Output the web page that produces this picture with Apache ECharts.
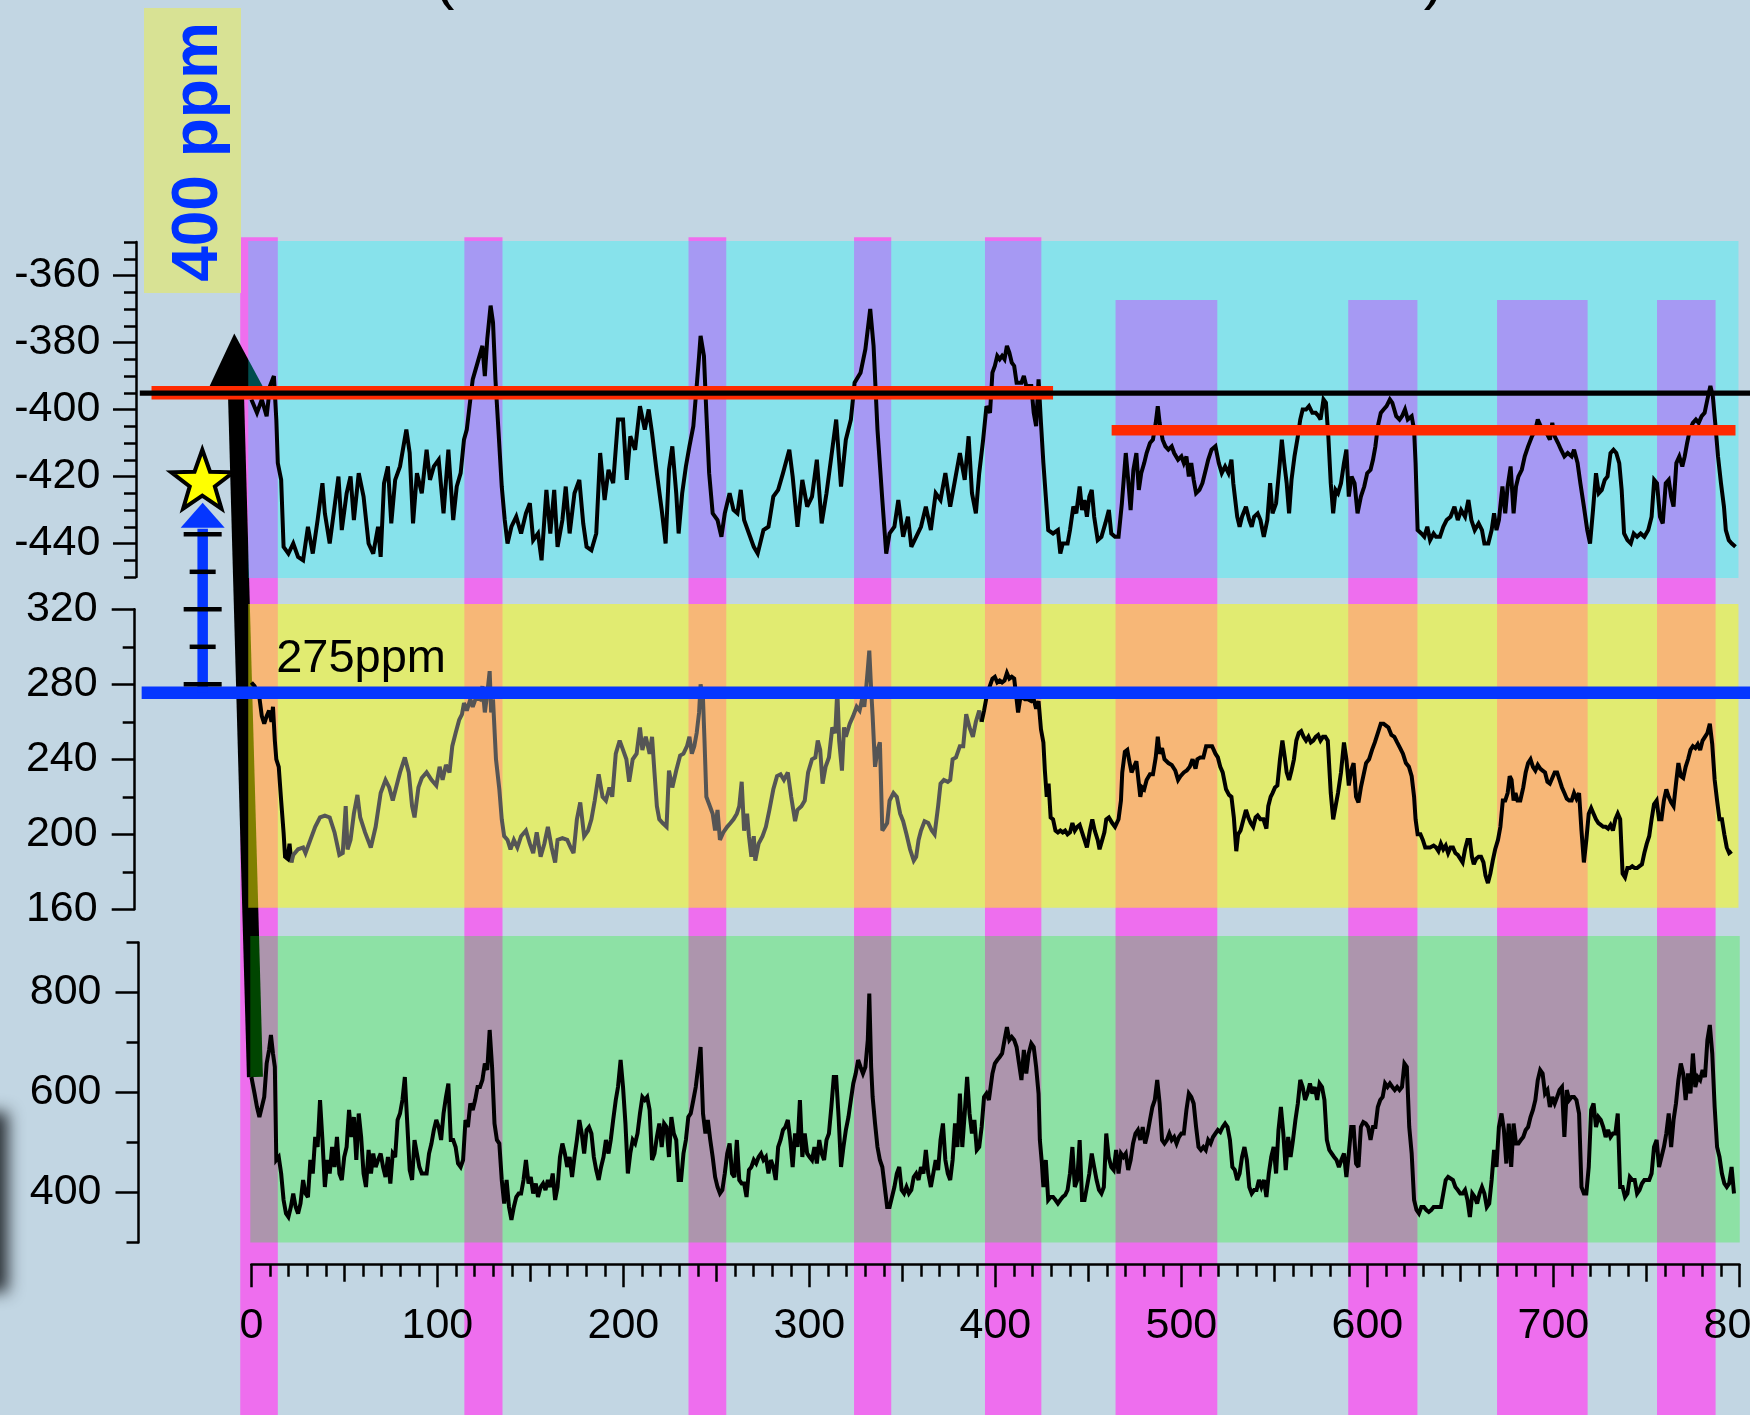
<!DOCTYPE html>
<html>
<head>
<meta charset="utf-8">
<script src="https://cdn.jsdelivr.net/npm/echarts@6.0.0/dist/echarts.min.js"></script>
<style>
html,body{margin:0;padding:0;background:#C2D6E3;overflow:hidden}
#chart{width:1750px;height:1415px}
</style>
</head>
<body>
<div id="chart"></div>
<script>
// ---------------- data (ages in kyr before present) ----------------
const ageTickLabels = [0, 100, 200, 300, 400, 500, 600, 700, 800];
const dDTickLabels = [-440, -420, -400, -380, -360];
const dDMinorTicks = [-450, -445, -435, -430, -425, -415, -410, -405, -395, -390, -385, -375, -370, -365, -355, -350];
const co2TickLabels = [160, 200, 240, 280, 320];
const co2MinorTicks = [180, 220, 260, 300];
const ch4TickLabels = [400, 600, 800];
const ch4MinorTicks = [300, 500, 700, 900];

// interglacial bands
const interglacialStart = [-6, 114.5, 235, 324, 394.4, 464.6, 589.7, 669.7, 755.7];
const interglacialEnd   = [14.2, 135, 255.3, 344, 424.7, 519.3, 626.9, 718.4, 787.2];
const interglacialTopDD = [-348.6, -348.6, -348.6, -348.6, -348.6, -367.3, -367.3, -367.3, -367.3];

// deuterium record (top panel)
const deltaD = [[0,-397],[3,-401],[5.6,-397],[8.2,-402],[10,-393],[12.1,-390],[13.4,-403],[14.2,-416],[16,-421],[17.3,-441],[19.9,-443],[22.5,-440],[25.1,-444],[27.8,-445],[30.4,-435],[33,-443],[35.6,-433],[38.2,-422],[39.5,-431],[42.1,-440],[44.7,-429],[46.8,-420],[48.6,-436],[51.2,-425],[53.3,-420],[55.1,-433],[57.7,-419],[60.3,-426],[63,-440],[65.5,-443],[68.1,-435],[69.5,-444],[71.3,-422],[73.4,-417],[75.2,-434],[77.3,-421],[79.9,-417],[83.3,-406],[85.1,-413],[86.9,-434],[89,-419],[91.6,-425],[94.2,-412],[96,-421],[98.1,-417],[100.7,-415],[103.3,-431],[105.9,-412],[108.5,-433],[110.4,-423],[112.5,-419],[114.3,-409],[115.8,-406],[117.7,-397],[119,-391],[121.6,-386],[124.2,-381],[125.5,-390],[126.8,-379],[128.6,-369],[129.9,-374],[131.2,-391],[132.8,-406],[134.6,-423],[136.2,-433],[137.7,-440],[139.8,-435],[142.4,-432],[145,-437],[147.6,-431],[149.7,-428],[151.5,-439],[154.1,-437],[156,-445],[158.6,-424],[160.7,-437],[162.8,-424],[164.6,-441],[167.2,-433],[169,-423],[171.1,-437],[173.7,-425],[176.3,-421],[178.4,-434],[180.2,-441],[182.8,-442],[185.4,-437],[187.5,-413],[189.9,-427],[192,-418],[194.5,-422],[197.1,-403],[199.8,-403],[201.8,-421],[203.7,-408],[206.3,-412],[208.9,-399],[211.5,-406],[213.6,-400],[215.4,-407],[218,-419],[220.6,-430],[222.7,-440],[224.5,-418],[226.3,-411],[228.4,-425],[229.7,-437],[231.6,-425],[233.6,-417],[235.5,-411],[237.6,-405],[239.4,-393],[240.7,-384],[241.5,-378],[243.3,-384],[244.6,-401],[246.1,-419],[248,-431],[250.6,-433],[252.7,-438],[254.5,-431],[257.1,-425],[259.2,-430],[261.3,-431],[263.1,-424],[264.9,-433],[267.5,-437],[270.1,-441],[272.2,-443],[275.3,-436],[278,-435],[280.6,-426],[283.2,-424],[285.8,-419],[289.2,-412],[291,-420],[293.6,-435],[296.2,-421],[298.8,-429],[301.4,-426],[304,-415],[306.6,-434],[309.2,-425],[311.8,-414],[314.4,-403],[317,-423],[319.6,-409],[322.3,-403],[324.3,-392],[327.5,-389],[330.1,-382],[332.7,-370],[334.5,-381],[336.6,-406],[339.2,-427],[341.3,-443],[343.1,-437],[345.7,-435],[347.8,-427],[350.4,-438],[353,-432],[354.8,-441],[357.4,-438],[360,-435],[362.6,-429],[365.3,-436],[367.9,-425],[370.5,-427],[373.1,-419],[375.7,-429],[378.3,-421],[380.9,-413],[383.5,-421],[385.6,-408],[387.4,-425],[389.5,-431],[391.3,-419],[393.4,-409],[395.2,-399],[397.1,-401],
[398.4,-389],[399.7,-387],[401,-384],[402.3,-385],[403.6,-384],[404.9,-385],[406.2,-381],[407.5,-383],[408.8,-386],[410.1,-387],[411.4,-392],[414,-392],[415.3,-390],[416.6,-393],[419.3,-393],[420.6,-401],[421.9,-405],[423.2,-391],[424.5,-404],[425.8,-416],[427.1,-426],[428.4,-436],[431,-437],[433.6,-436],[434.9,-443],[436.2,-440],[438.8,-440],[440.1,-436],[441.9,-429],[443.5,-431],[445.3,-423],[446.6,-430],[447.9,-427],[449.2,-432],[450.5,-426],[451.8,-424],[453.1,-432],[455,-439],[457,-438],[459.1,-434],[461,-430],[462.3,-437],[464.3,-438],[466.2,-438],[468,-428],[470.1,-413],[471.4,-421],[472.7,-430],[474.2,-418],[475.8,-413],[477.1,-424],[478.4,-419],[480,-416],[481.3,-413],[483.1,-410],[484.7,-409],[486.2,-404],[487.3,-399],[488.3,-404],[489.9,-409],[491.4,-411],[493,-412],[494.8,-411],[496.1,-413],[498.2,-415],[500,-414],[501.3,-416],[502.7,-414],[504,-420],[505.3,-416],[506.6,-421],[507.9,-425],[509.7,-424],[511.3,-422],[513.1,-418],[514.4,-415],[516.2,-412],[518.3,-411],[520.1,-416],[521.7,-419],[523.5,-417],[525.3,-419],[526.9,-415],[527.9,-422],[530,-432],[531.3,-435],[532.6,-432],[534.7,-429],[536.5,-433],[537.8,-435],[539.1,-432],[541,-431],[542.5,-433],[544.3,-438],[546.2,-433],[547.7,-422],[549,-431],[550.9,-428],[552.9,-416],[554,-409],[555.3,-416],[556.6,-422],[557.9,-431],[559.2,-421],[560.8,-414],[562.6,-408],[563.9,-403],[565.2,-400],[567,-400],[568.6,-399],[570.4,-401],[572.2,-401],[573.8,-402],[574.8,-403],[576.4,-397],[577.7,-398],[579,-408],[580.3,-422],[581.6,-431],[582.9,-424],[584.2,-425],[585.8,-422],[587.4,-416],[588.7,-412],[590,-426],[591.5,-420],[593.1,-422],[594.7,-431],[596.5,-426],[598.3,-423],[599.9,-419],[601.7,-418],[603,-415],[604.3,-411],[605.6,-405],[607.2,-401],[608.7,-400],[610.3,-399],[612.1,-397],[613.4,-398],[615.5,-402],[617.3,-403],[618.6,-402],[620.2,-400],[621.7,-403],[623.8,-402],[625.1,-406],[625.9,-416],[627,-436],[629,-437],[630.6,-438],[632.2,-435],[633.7,-439],[635.6,-437],[636.9,-438],[639,-438],[640.8,-435],[642.6,-433],[644.7,-432],[646.8,-429],[648.6,-433],[650.4,-430],[652.5,-432],[654.3,-427],[655.9,-433],[657.7,-436],[659.8,-434],[661.6,-436],[662.9,-440],[665,-440],[666.8,-436],[668.1,-431],[669.4,-436],[670.7,-433],[672.6,-423],[674.1,-431],[675.4,-423],[677,-417],[678.6,-431],[679.9,-423],[681.2,-420],[683,-418],[684.6,-414],[686.4,-411],[688.5,-408],[690.3,-406],[691.6,-403],[693.2,-405],[694.2,-406],[696.3,-407],[698.1,-409],[699.4,-404],[700.7,-408],[702.5,-410],[704.1,-412],[705.9,-414],[707.7,-413],[709.8,-414],[711.1,-412],[713,-416],[714.5,-422],[716.4,-429],[718.2,-436],[719.7,-440],[721.3,-430],[722.9,-419],[724.4,-425],[726,-424],[727.6,-421],[729.1,-420],[730.7,-413],[732.3,-412],[733.8,-413],[735.4,-416],[736.7,-424],[738,-437],[739.8,-439],[741.6,-440],[743.2,-437],[745,-438],[746.9,-437],[748.9,-438],[751,-436],[752.8,-432],[754.2,-421],[755.7,-422],[757.3,-432],[758.8,-434],[760.4,-422],[762,-421],[763.3,-426],[764.6,-429],[766.1,-416],[767.7,-414],[769.3,-417],[770.6,-414],[771.9,-410],[773.4,-406],[775,-404],[776.6,-403],[778.1,-404],[779.7,-402],[781.3,-401],[782.8,-397],[784.4,-393],[785.7,-396],[787,-404],[788.5,-414],[790.1,-422],[791.7,-429],[792.7,-436],[794.3,-439],[795.9,-440],[797.9,-441]];

// CO2 (middle panel): recent part, Vostok (grey), Dome C (black)
const co2Recent = [[0,281],[1.7,279],[4.3,273],[5.6,263],[6.9,259],[8.2,263],[9.5,266],[10.8,260],[11.6,268],[12.6,250],[13.4,240],[14.7,236],[16,218],[17.3,201],[18.1,188],[19.4,187],[20.5,195],[21.5,185]];
const co2Vostok = [[21.5,185],[22.5,189],[25.1,192],[27.8,193],[29.1,190],[31.7,197],[34.3,204],[36.9,209],[39.5,210],[42.1,209],[44.7,201],[47.3,189],[49.1,190],[50.7,215],[51.7,192],[53.3,197],[55.1,211],[57,221],[58.5,209],[61.1,201],[64.2,193],[66.8,204],[69.5,222],[72.1,229],[74.1,225],[76,218],[77.8,225],[79.9,233],[82.5,241],[84.6,233],[86.4,215],[87.7,209],[89.8,225],[91.6,230],[94.2,233],[96.8,229],[99.4,226],[101.2,236],[102.8,229],[104.6,237],[106.5,233],[108,247],[109.8,254],[111.7,261],[113.2,264],[114.3,270],[115.8,266],[117.7,272],[119,268],[120.8,273],[122.9,272],[124.2,279],[125.5,265],[126.8,275],[128.1,287],[128.9,265],[129.9,272],[131.5,240],[133.3,224],[134.6,208],[135.9,199],[137.7,197],[139.3,192],[141.1,197],[143,193],[145,199],[147.6,202],[149.7,195],[151.5,190],[153.4,201],[155.5,188],[157.5,195],[159.4,204],[161.4,193],[163.3,185],[164.6,197],[167.2,198],[169.8,197],[171.6,193],[173.2,190],[175,208],[176.8,217],[178.9,199],[181,202],[182.8,208],[184.6,218],[186.7,232],[188.8,220],[190.6,218],[192.5,225],[194,220],[195.9,243],[198,250],[199.8,245],[201.6,240],[203.1,228],[205,240],[207.1,243],[208.9,257],[210.2,245],[212,252],[214.1,243],[215.4,252],[216.7,233],[218,215],[219.3,208],[221.1,206],[223.2,204],[224.5,234],[226.3,225],[228.4,234],[230.5,242],[232.3,243],[234.2,247],[235.5,252],[236.8,243],[238.1,247],[239.4,254],[240.7,265],[241.5,280],[242.8,272],[243.6,250],[244.6,220],[246.1,216],[248,211],[249.3,202],[250.6,213],[251.9,197],[253.7,201],[255.8,204],[257.6,206],[259.2,208],[261,211],[262.3,215],[263.6,228],[264.9,202],[266.5,211],[267.5,199],[268.8,188],[270.1,199],[270.9,186],[272.7,195],[274.8,199],[276.6,204],[278.5,213],[280.6,224],[282.6,231],[284.5,232],[286.3,229],[288.4,233],[290.2,220],[292.3,207],[293.6,213],[295.7,215],[297.5,218],[299.3,233],[301.4,240],[303.2,241],[304.5,250],[305.8,245],[307.1,227],[308.7,236],[310.5,241],[312.3,257],[313.9,254],[315,277],[316,250],[317.5,234],[318.6,257],[319.6,252],[321.7,259],[323.5,263],[325.4,268],[327,266],[328.3,272],[329.5,268],[330.6,279],[331.4,288],[332.2,298],[333.2,277],[334,263],[335.3,236],[336.6,245],[337.9,249],[339.2,202],[340.5,204],[341.8,206],[343.1,218],[345.2,222],[347,220],[348.8,211],[350.4,207],[352.2,200],[354.1,192],[356.1,186],[357.4,188],[358.7,197],[360,202],[361.9,207],[363.9,206],[365.8,202],[367.3,200],[369.2,215],[370.5,227],[372.3,229],[374.4,228],[375.7,229],[377,240],[378.8,241],[380.9,247],[382.7,247],[384.3,264],[386.1,257],[387.9,252],[389.5,260],[391.3,266],[392.6,260]];
const co2DomeC = [[392.6,260],[393.9,266],[395.2,273],[397,279],[398.4,283],[399.7,284],[401,281],[402.3,282],[403.6,281],[404.9,282],[406.2,286],[407.5,283],[408.8,284],[410.1,283],[411.4,272],[412.2,265],[413.3,272],[414.6,273],[415.9,272],[417.4,272],[419.3,271],[420.6,272],[421.9,267],[423.2,271],[424.5,256],[425.8,249],[426.6,234],[427.6,220],[428.6,227],[429.7,209],[431,208],[432.3,202],[433.6,201],[434.9,202],[436.2,201],[437.5,202],[438.8,200],[440.1,201],[441.4,206],[442.7,202],[444,204],[445.3,205],[446.6,201],[447.9,197],[449.2,193],[450.8,202],[452.1,208],[453.4,202],[455,197],[456,192],[457,193],[458.6,201],[459.6,208],[461,209],[462.8,206],[464.3,204],[466.2,208],[467.5,218],[468.2,233],[469.6,244],[470.9,245],[472.2,238],[473.2,233],[474.5,236],[475.8,239],[476.9,229],[477.9,220],[478.9,225],[480,224],[481.3,229],[483.1,232],[484.7,232],[485.7,232],[486.2,241],[487.3,252],[488.3,243],[489.6,246],[490.9,240],[493,238],[494.8,237],[496.7,234],[498.2,229],[499.5,231],[501.3,233],[502.9,234],[504.5,236],[506,240],[507.6,235],[508.6,240],[510.2,241],[511.8,241],[513.3,247],[514.9,247],[516.5,247],[518.3,243],[519.6,241],[520.9,236],[522.2,233],[524,224],[525.6,221],[526.9,220],[528.2,209],[529.5,191],[530.5,200],[531.8,202],[533.1,207],[534.7,213],[536,209],[537.3,206],[538.6,204],[539.9,209],[541,210],[542.5,208],[544.1,208],[545.7,203],[546.7,215],[548,220],[549,222],[550.3,225],[551.6,226],[553,240],[554.3,250],[555.6,241],[556.6,233],[557.9,229],[559.2,234],[560.5,240],[561.8,250],[563.1,254],[564.4,255],[565.7,252],[567,250],[568.3,252],[569.6,249],[570.9,250],[572.2,252],[573.5,253],[574.8,250],[576.1,252],[577.4,252],[578.7,250],[580.3,222],[581.6,208],[582.9,215],[584.2,222],[585.8,233],[587.4,249],[588.7,240],[590,226],[591.3,234],[592.6,238],[593.9,220],[595.2,217],[596.5,225],[597.8,231],[599.3,238],[600.9,240],[602.5,245],[604,249],[605.6,254],[607.2,259],[608.7,259],[610,258],[611.3,257],[612.9,253],[614.5,252],[616,249],[617.6,246],[619.1,243],[620.7,238],[622.3,236],[623.8,231],[625.1,220],[625.9,208],[627,200],[628.5,200],[629.8,197],[631.1,193],[632.4,193],[633.7,193],[635.6,194],[636.9,193],[638.2,191],[639.5,195],[640.8,192],[642.1,194],[643.4,190],[644.7,193],[646,193],[647.3,190],[648.6,189],[649.9,187],[651.2,185],[652.5,192],[653.8,197],[655.1,197],[656.2,188],[657.2,184],[658.5,187],[659.8,188],[661.1,188],[662.4,185],[663.5,178],[664.8,174],[666.1,179],[667.4,186],[668.7,192],[670.2,197],[671.5,204],[672.8,218],[674.1,218],[675.4,222],[676.5,231],[677.5,229],[678.6,218],[679.6,222],[680.7,218],[682.2,218],[683.8,225],[685.1,233],[686.4,238],[687.7,240],[689,236],[690.3,234],[691.6,237],[692.9,235],[694.2,234],[695.5,233],[696.8,228],[698.1,227],[699.4,230],[700.7,233],[702,233],[703.3,229],[704.6,225],[705.9,222],[707.2,219],[708.5,218],[709.8,218],[711.1,222],[712.4,219],[713.8,222],[715.1,202],[716.4,185],[717.7,197],[719,211],[720.3,214],[721.6,211],[722.9,208],[724.2,206],[725.5,205],[726.8,204],[728.1,204],[729.4,203],[730.7,205],[732,202],[733.3,208],[734.6,211],[735.9,208],[737.2,179],[738.5,177],[739.8,182],[741.1,182],[742.4,183],[743.7,182],[745,182],[746.3,183],[747.6,184],[748.9,190],[750.2,195],[751.5,199],[752.8,208],[754.1,216],[755.5,218],[756.8,208],[758.1,208],[759.4,218],[760.7,224],[762,220],[763.3,217],[764.6,215],[765.9,227],[767.2,238],[768.5,231],[769.8,230],[771.1,236],[772.4,240],[773.7,245],[775,247],[776.3,246],[777.6,248],[778.9,245],[780.2,250],[781.5,252],[782.8,254],[784.1,259],[785.4,248],[786.7,229],[788,218],[789.3,208],[790.6,208],[791.9,200],[793.2,193],[794.5,190],[795.8,191]];

// CH4 (bottom panel)
const ch4 = [[0,631],[1.7,598],[3,571],[4.3,551],[5.6,571],[6.9,591],[8.2,658],[9.5,685],[10.5,715],[11.6,678],[12.6,651],[13.4,465],[14.7,471],[16,438],[17.3,385],[18.6,358],[19.9,351],[21.2,371],[22.5,398],[23.8,371],[25.1,358],[26.4,378],[27.8,425],[29.1,398],[30.4,391],[31.7,465],[33,438],[34.3,511],[35.6,491],[36.9,585],[38.2,505],[39.5,411],[40.8,465],[42.1,438],[43.4,491],[44.7,451],[46,511],[47.3,438],[48.6,425],[49.9,471],[51.2,491],[52.5,565],[53.8,511],[55.1,551],[56.4,465],[57.7,558],[59,511],[60.3,438],[61.6,411],[63,485],[64.3,438],[65.5,478],[66.8,451],[68.1,465],[69.5,478],[70.8,451],[72.1,431],[73.4,471],[74.7,418],[76,478],[77.3,471],[78.6,545],[79.9,558],[81.2,585],[82.5,631],[83.8,538],[85.1,445],[86.4,425],[87.7,505],[89,478],[90.3,451],[91.6,438],[92.9,438],[94.2,438],[95.5,478],[96.8,498],[98.1,525],[99.4,545],[100.7,531],[102,505],[103.3,558],[104.6,591],[105.9,618],[107.2,505],[108.5,505],[109.8,491],[111.1,458],[112.5,451],[113.8,465],[115.1,545],[116.4,531],[117.7,578],[119,565],[120.3,585],[121.6,611],[122.9,611],[124.2,625],[125.5,658],[126.8,645],[128.1,725],[129.4,651],[130.7,538],[132,505],[133.3,498],[134.6,425],[135.9,378],[137.2,425],[138.5,371],[139.8,345],[141.1,371],[142.4,391],[143.7,398],[145,398],[146.3,425],[147.6,465],[149,418],[150.2,431],[151.5,398],[152.9,418],[154.1,391],[155.5,411],[156.8,418],[158.1,405],[159.4,425],[160.7,411],[162,438],[163.3,385],[164.6,411],[165.9,471],[167.2,498],[168.5,478],[169.8,451],[171.1,471],[172.4,431],[173.7,471],[175,505],[176.3,545],[177.6,518],[178.9,478],[180.2,525],[181.5,531],[182.8,518],[184.1,471],[185.4,445],[186.7,425],[188,451],[189.3,471],[190.6,505],[192,478],[193.2,505],[194.5,545],[195.9,585],[197.1,611],[198.5,665],[199.8,611],[201.1,538],[202.4,438],[203.7,478],[205,505],[206.3,498],[207.6,518],[208.9,558],[210.2,591],[211.5,585],[212.8,591],[214.1,565],[215.4,465],[216.7,478],[218,511],[219.3,538],[220.6,491],[221.9,538],[223.2,531],[224.5,471],[225.8,551],[227.1,518],[228.4,505],[229.7,425],[231,425],[232.3,478],[233.6,505],[234.9,551],[236.2,558],[237.6,585],[238.9,611],[240.2,651],[241.5,691],[242.8,558],[244.1,518],[245.4,545],[246.7,505],[248,471],[249.3,431],[250.6,411],[251.9,398],[253.2,405],[254.5,438],[255.8,478],[257.1,498],[258.4,438],[259.7,431],[261,505],[262.3,425],[263.6,418],[264.9,418],[266.2,391],[267.5,445],[268.8,451],[270.1,465],[271.4,458],[272.7,471],[274,478],[275.3,465],[276.6,471],[278,438],[279.3,465],[280.6,451],[281.9,425],[283.2,491],[284.5,505],[285.8,525],[287.1,531],[288.4,545],[289.7,505],[291,451],[292.3,518],[293.6,491],[294.9,585],[296.2,471],[297.5,518],[298.8,478],[300.1,471],[301.4,465],[302.7,491],[304,458],[305.3,505],[306.6,478],[307.9,465],[309.2,505],[310.5,518],[311.8,571],[313.1,631],[314.4,631],[315.7,551],[317,451],[318.3,491],[319.6,525],[321,551],[322.3,585],[323.6,618],[324.9,638],[326.2,665],[327.5,651],[328.8,638],[330.1,651],[331.4,705],[332.2,798],[333.2,651],[334,591],[335.3,538],[336.6,491],[337.9,465],[339.2,451],[340.5,411],[341.8,371],[343.1,371],[344.4,391],[345.7,411],[347,438],[348.3,451],[349.6,405],[350.9,398],[352.2,411],[353.5,398],[354.8,405],[356.1,431],[357.4,438],[358.7,425],[360,451],[361.3,438],[362.6,485],[363.9,438],[365.3,411],[366.6,438],[367.9,465],[369.2,445],[370.5,505],[371.8,538],[373.1,465],[374.4,438],[375.7,425],[377,465],[378.3,538],[379.6,491],[380.9,598],[382.2,491],[383.5,558],[384.8,631],[386.1,558],[387.4,518],[388.7,545],[390,485],[391.3,491],[392.6,531],[393.9,591],[395.2,598],[396.5,585],
[398.4,638],[399.7,658],[401,665],[402.3,671],[403.6,678],[404.9,705],[406.2,731],[407.5,705],[408.8,711],[410.1,705],[411.4,691],[412.7,658],[414,625],[415.3,685],[416.6,638],[417.9,678],[419.3,698],[420.6,691],[421.9,651],[423.2,598],[423.9,505],[425,458],[425.8,411],[427.1,465],[428.4,385],[429.7,391],[431,391],[432.3,385],[433.6,378],[434.9,385],[436.2,391],[437.5,395],[438.8,405],[440.1,438],[441.4,491],[442.7,411],[444,425],[445.3,505],[446.6,385],[447.9,385],[449.2,411],[450.5,438],[451.8,478],[453.1,451],[454.4,425],[455.7,405],[457,398],[458.3,411],[459.6,518],[460.9,471],[462.3,451],[463.6,445],[464.9,485],[466.2,438],[467.5,478],[468.8,471],[470.1,478],[471.4,445],[472.7,465],[474,498],[475.3,518],[476.6,525],[477.9,505],[479.2,531],[480.5,498],[481.8,518],[483.1,545],[484.4,571],[485.7,585],[487,625],[488.3,578],[489.6,505],[490.9,498],[492.2,505],[493.5,518],[494.8,505],[496.1,511],[497.4,498],[498.7,511],[500,518],[501.3,518],[502.7,565],[504,598],[505.3,591],[506.6,578],[507.9,531],[509.2,491],[510.5,485],[511.8,491],[513.1,485],[514.4,505],[515.7,498],[517,511],[518.3,518],[519.6,525],[520.9,521],[522.2,531],[523.5,538],[524.8,531],[526.1,505],[527.4,451],[528.7,445],[530,425],[531.3,438],[532.6,471],[533.9,491],[535.2,465],[536.5,411],[537.8,398],[539.1,405],[540.4,405],[541.7,425],[543,411],[544.4,425],[545.7,391],[547,438],[548.3,471],[549.6,491],[550.9,438],[552.2,525],[553.5,571],[554.8,518],[556.1,445],[557.4,511],[558.7,471],[560,505],[561.3,545],[562.6,578],[563.9,625],[565.2,611],[566.5,585],[567.8,598],[569.1,618],[570.4,598],[571.7,611],[573,585],[574.3,618],[575.6,611],[576.9,585],[578.2,505],[579.5,485],[580.8,478],[582.1,471],[583.4,465],[584.7,451],[586,465],[587.4,478],[588.7,431],[590,478],[591.3,531],[592.6,531],[593.9,458],[595.2,451],[596.5,531],[597.8,541],[599.1,538],[600.4,531],[601.7,505],[603,531],[604.3,531],[605.6,571],[606.9,585],[608.2,591],[609.5,618],[610.8,611],[612.1,618],[613.4,611],[614.7,605],[616,611],[617.3,605],[618.6,611],[619.9,658],[621.2,651],[622.5,531],[623.8,478],[625.1,385],[626.4,365],[627.7,358],[629,371],[630.4,371],[631.7,365],[633,361],[634.3,365],[635.6,371],[636.9,371],[638.2,371],[639.5,371],[640.8,398],[642.1,425],[643.4,431],[644.7,428],[646,425],[647.3,411],[648.6,405],[649.9,398],[651.2,398],[652.5,405],[653.8,385],[655.1,351],[656.4,398],[657.7,391],[659,378],[660.3,398],[661.6,411],[662.9,398],[664.2,371],[665.5,378],[666.8,425],[668.1,485],[669.4,451],[670.7,531],[672.1,558],[673.4,525],[674.7,458],[676,538],[677.3,451],[678.6,538],[679.9,498],[681.2,498],[682.5,505],[683.8,511],[685.1,525],[686.4,531],[687.7,551],[689,565],[690.3,585],[691.6,625],[692.9,645],[694.2,638],[695.5,598],[696.8,605],[698.1,571],[699.4,591],[700.7,578],[702,591],[703.3,605],[704.6,611],[705.9,511],[707.2,605],[708.5,585],[709.8,591],[711.1,591],[712.4,585],[713.8,558],[715.1,411],[716.4,398],[717.7,398],[719,451],[720.3,565],[721.6,578],[722.9,531],[724.2,551],[725.5,545],[726.8,531],[728.1,511],[729.4,525],[730.7,511],[732,518],[733.3,518],[734.6,558],[735.9,411],[737.2,411],[738.5,391],[739.8,398],[741.1,431],[742.4,425],[743.7,425],[745,398],[746.3,405],[747.6,418],[748.9,425],[750.2,425],[751.5,425],[752.8,438],[754.1,491],[755.5,505],[756.8,451],[758.1,471],[759.4,491],[760.7,518],[762,558],[763.3,491],[764.6,545],[765.9,578],[767.2,625],[768.5,658],[769.8,638],[771.1,585],[772.4,638],[773.7,598],[775,678],[776.3,611],[777.6,631],[778.9,625],[780.2,645],[781.5,631],[782.8,705],[784.1,735],[785.4,678],[786.7,571],[788,491],[789.3,471],[790.6,438],[791.9,418],[793.2,411],[794.5,418],[795.8,451],[797.1,398]];

// reference levels
const redFrom  = [-53.7, 462.5];
const redTo    = [431, 797.9];
const redLevel = [-395, -406.2];
const blackLevelDD = -395.1;
const preindustrialCO2 = 275.5;
const co2MarkerTicks = [280, 300, 320, 340, 360];
const co2ArrowAge = -26.2, co2ArrowBase = 363.5, co2ArrowTip = 376.8, co2StarValue = 387.7;
const modernArrowStart = [1.9, 631];   // bottom panel (age, CH4)
const modernArrowTip = [-9.2, -377.3]; // top panel (age, dD)

// ---------------- chart ----------------
const FONT = "'Liberation Sans', Arial, Helvetica, sans-serif";
const chart = echarts.init(document.getElementById('chart'), null, {renderer: 'canvas', width: 1750, height: 1415});
const GL = 251.4, GW = 1488;

function yMajor(grid, min, max, offset, ticks, margin) {
  return {gridIndex: grid, type: 'value', min, max, position: 'left', offset, z: 10,
    axisLine: {show: true, onZero: false, lineStyle: {color: '#000', width: 2.5}},
    axisTick: {show: true, length: 23, customValues: ticks, lineStyle: {color: '#000', width: 2.5}},
    axisLabel: {show: true, customValues: ticks, margin, fontSize: 43, color: '#000', fontFamily: FONT},
    splitLine: {show: false}};
}
function yMinor(grid, min, max, offset, ticks) {
  return {gridIndex: grid, type: 'value', min, max, position: 'left', offset, z: 10,
    axisLine: {show: false, onZero: false},
    axisTick: {show: true, length: 12, customValues: ticks, lineStyle: {color: '#000', width: 2.5}},
    axisLabel: {show: false}, splitLine: {show: false}};
}
function panelSeries(xi, yi, rows, fill) {
  return {type: 'custom', xAxisIndex: xi, yAxisIndex: yi, z: 3, silent: true, clip: false,
    data: rows,
    renderItem: (params, api) => {
      const a = api.coord([api.value(0), api.value(3)]);
      const b = api.coord([api.value(1), api.value(2)]);
      return {type: 'rect', shape: {x: a[0], y: a[1], width: b[0] - a[0], height: b[1] - a[1]}, style: {fill}};
    }};
}
function hline(xi, yi, x0, x1, y, color, width, z) {
  return {type: 'custom', xAxisIndex: xi, yAxisIndex: yi, z, silent: true, clip: false,
    data: [[x0, x1, y]],
    renderItem: (params, api) => {
      const a = api.coord([api.value(0), api.value(2)]);
      const b = api.coord([api.value(1), api.value(2)]);
      return {type: 'line', shape: {x1: a[0], y1: a[1], x2: b[0], y2: b[1]}, style: {stroke: color, lineWidth: width, lineCap: 'butt'}};
    }};
}
function record(xi, yi, data, color) {
  return {type: 'line', xAxisIndex: xi, yAxisIndex: yi, z: 4, data, symbol: 'none', showSymbol: false,
    lineStyle: {color, width: 4, join: 'miter', miterLimit: 3}};
}

const series = [
  {type: 'custom', xAxisIndex: 0, yAxisIndex: 0, z: 1, silent: true, clip: false,
    data: interglacialStart.map((s, i) => [s, interglacialEnd[i], interglacialTopDD[i]]),
    renderItem: (params, api) => {
      const a = api.coord([api.value(0), api.value(2)]);
      const b = api.coord([api.value(1), api.value(2)]);
      return {type: 'rect', shape: {x: a[0], y: a[1], width: b[0] - a[0], height: api.getHeight() - a[1]}, style: {fill: '#EE6EEE'}};
    }},
  panelSeries(0, 0, [[-1.7, 799.5, -450.3, -349.7]], 'rgba(0,255,255,0.3)'),
  panelSeries(1, 2, [[-1.7, 799.5, 160.8, 322.8]], 'rgba(255,255,0,0.5)'),
  panelSeries(2, 4, [[-0.6, 800.2, 300, 913]], 'rgba(0,255,0,0.27)'),
  record(0, 0, deltaD, '#000'),
  record(1, 2, co2Recent, '#000'),
  record(1, 2, co2Vostok, '#555555'),
  record(1, 2, co2DomeC, '#000'),
  record(2, 4, ch4, '#000'),
  hline(0, 0, redFrom[0], redTo[0], redLevel[0], '#FF2A00', 13.3, 5),
  hline(0, 0, redFrom[1], redTo[1], redLevel[1], '#FF2A00', 10.7, 5),
  hline(0, 0, -60, 806, blackLevelDD, '#000', 5.3, 6),
  hline(1, 2, -59, 806, preindustrialCO2, '#0536FF', 12.3, 6)
];

const option = {
  backgroundColor: '#C2D6E3',
  animation: false,
  grid: [
    {left: GL, top: 242, width: GW, height: 335, containLabel: false, outerBoundsMode: 'none'},
    {left: GL, top: 609.3, width: GW, height: 300, containLabel: false, outerBoundsMode: 'none'},
    {left: GL, top: 942.5, width: GW, height: 300, containLabel: false, outerBoundsMode: 'none'}
  ],
  xAxis: [
    {gridIndex: 0, type: 'value', min: 0, max: 800, show: false},
    {gridIndex: 1, type: 'value', min: 0, max: 800, show: false},
    {gridIndex: 2, type: 'value', min: 0, max: 800, interval: 50, position: 'bottom', offset: 21.5, z: 10,
      axisLine: {show: true, onZero: false, lineStyle: {color: '#000', width: 2.5}},
      axisTick: {show: true, length: 17.7, lineStyle: {color: '#000', width: 2.5}},
      minorTick: {show: true, splitNumber: 5, length: 12.7, lineStyle: {color: '#000', width: 2.5}},
      axisLabel: {show: true, margin: 41, fontSize: 43, color: '#000', fontFamily: FONT,
        showMinLabel: true, showMaxLabel: true, hideOverlap: false,
        formatter: v => ageTickLabels.includes(v) ? String(v) : ''},
      splitLine: {show: false}, minorSplitLine: {show: false}},
    {gridIndex: 2, type: 'value', min: 0, max: 800, interval: 100, position: 'bottom', offset: 21.5, z: 10,
      axisLine: {show: false, onZero: false},
      axisTick: {show: true, length: 23.3, lineStyle: {color: '#000', width: 2.5}},
      axisLabel: {show: false}, splitLine: {show: false}}
  ],
  yAxis: [
    yMajor(0, -450, -350, 115.4, dDTickLabels, 35.7),
    yMinor(0, -450, -350, 115.4, dDMinorTicks),
    yMajor(1, 160, 320, 116.7, co2TickLabels, 37),
    yMinor(1, 160, 320, 116.7, co2MinorTicks),
    yMajor(2, 300, 900, 112.9, ch4TickLabels, 37),
    yMinor(2, 300, 900, 112.9, ch4MinorTicks)
  ],
  series
};
chart.setOption(option);

// ---------------- annotations anchored through the axes ----------------
const P = (g, v) => chart.convertToPixel({xAxisIndex: g, yAxisIndex: g * 2}, v);
const graphics = [];

// modern rise arrow (under the translucent panels)
const aS = P(2, modernArrowStart), aT = P(0, modernArrowTip);
const dx = aS[0] - aT[0], dy = aS[1] - aT[1], len = Math.hypot(dx, dy);
const ux = dx / len, uy = dy / len, headLen = 53.4, headHalf = 26.8;
const hb = [aT[0] + ux * headLen, aT[1] + uy * headLen];
graphics.push({type: 'line', z: 2, silent: true, shape: {x1: aS[0], y1: aS[1], x2: hb[0] - ux * 2, y2: hb[1] - uy * 2},
  style: {stroke: '#000', lineWidth: 16, lineCap: 'butt'}});
graphics.push({type: 'polygon', z: 2, silent: true, shape: {points: [aT, [hb[0] - uy * headHalf, hb[1] + ux * headHalf], [hb[0] + uy * headHalf, hb[1] - ux * headHalf]]},
  style: {fill: '#000'}});

// blue arrow with ticks and star
const bB = P(1, [co2ArrowAge, preindustrialCO2]), bH = P(1, [co2ArrowAge, co2ArrowBase]), bT = P(1, [co2ArrowAge, co2ArrowTip]);
graphics.push({type: 'line', z: 7, silent: true, shape: {x1: bB[0], y1: bB[1], x2: bH[0], y2: bH[1] + 1}, style: {stroke: '#0536FF', lineWidth: 10.5}});
graphics.push({type: 'polygon', z: 7, silent: true, shape: {points: [bT, [bH[0] - 22, bH[1]], [bH[0] + 22, bH[1]]]}, style: {fill: '#0536FF'}});
co2MarkerTicks.forEach((v, i) => {
  const p = P(1, [co2ArrowAge, v]);
  const hw = i % 2 === 0 ? 19 : 13;
  graphics.push({type: 'line', z: 8, silent: true, shape: {x1: p[0] - hw, y1: p[1], x2: p[0] + hw, y2: p[1]}, style: {stroke: '#000', lineWidth: 4.5}});
});
const sc = P(1, [co2ArrowAge - 0.2, co2StarValue]);
const starPts = [];
for (let k = 0; k < 10; k++) {
  const r = k % 2 === 0 ? 32.6 : 13.2;
  const ang = -Math.PI / 2 + k * Math.PI / 5;
  starPts.push([sc[0] + r * Math.cos(ang), sc[1] + r * Math.sin(ang)]);
}
graphics.push({type: 'polygon', z: 9, silent: true, shape: {points: starPts}, style: {fill: '#FFFF00', stroke: '#000', lineWidth: 4, lineJoin: 'miter'}});

// label box "400 ppm"
graphics.push({type: 'rect', z: 7, silent: true, shape: {x: 144, y: 8, width: 97, height: 285}, style: {fill: '#D8E294'}});
graphics.push({type: 'text', z: 8, silent: true, x: 199, y: 152, rotation: Math.PI / 2,
  style: {text: '400 ppm', fontFamily: FONT, fontWeight: 'bold', fontSize: 64, fill: '#0033FF', align: 'center', verticalAlign: 'middle'}});

// "275ppm" label
const lp = P(1, [13.3, 293.5]);
graphics.push({type: 'text', z: 8, silent: true, x: lp[0], y: lp[1],
  style: {text: '275ppm', fontFamily: FONT, fontSize: 47, fill: '#000', align: 'left', verticalAlign: 'middle'}});

// remnants of the cropped title
graphics.push({type: 'text', z: 8, silent: true, x: 444, y: 11, style: {text: '(', fontFamily: FONT, fontSize: 62, fill: '#000', align: 'center', verticalAlign: 'bottom'}});
graphics.push({type: 'text', z: 8, silent: true, x: 1434, y: 11, style: {text: ')', fontFamily: FONT, fontSize: 62, fill: '#000', align: 'center', verticalAlign: 'bottom'}});

// blurred dark object at the left edge (cropped)
graphics.push({type: 'rect', z: 8, silent: true, shape: {x: -200, y: 1112, width: 48, height: 180},
  style: {fill: '#2b3035', shadowBlur: 16, shadowColor: 'rgba(35,40,45,0.95)', shadowOffsetX: 160}});

chart.setOption({graphic: graphics});
</script>
</body>
</html>
